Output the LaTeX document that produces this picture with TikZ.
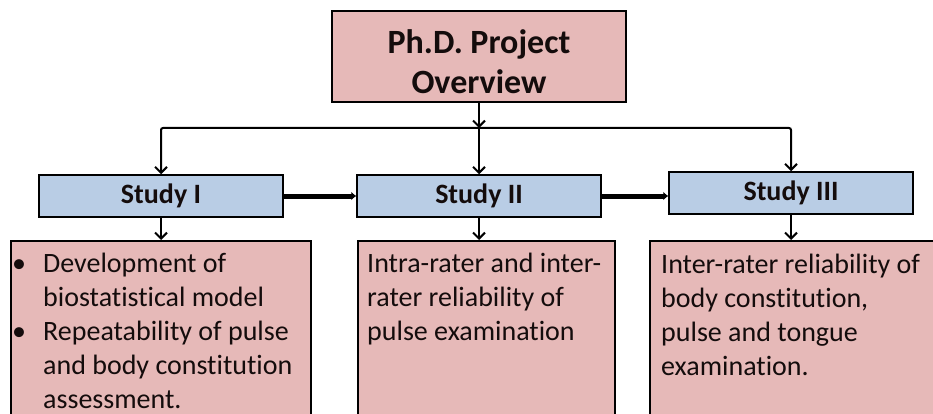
\documentclass[tikz,border=0pt]{standalone}
\usepackage{fontspec}
\setmainfont{Carlito}[Ligatures=NoCommon]
\usetikzlibrary{arrows.meta}
\definecolor{boxpink}{HTML}{E6B9B8}
\definecolor{boxblue}{HTML}{B9CDE5}
\definecolor{inkdark}{HTML}{140C0C}
\begin{document}
\begin{tikzpicture}[x=1pt,y=-1pt,
  titlebox/.style={draw=black, line width=2.5pt, fill=boxpink, minimum width=294pt,
    minimum height=91pt, inner sep=0pt},
  titletext/.style={align=center, inner sep=0pt, text=inkdark,
    font=\fontsize{34}{40}\selectfont\bfseries},
  studybox/.style={draw=black, line width=1.5pt, fill=boxblue, minimum width=244pt,
    minimum height=42pt, inner sep=0pt, text=inkdark,
    font=\fontsize{28}{34}\selectfont\bfseries},
  detailbox/.style={draw=black, line width=1.8pt, fill=boxpink, anchor=north west,
    inner sep=0pt, minimum height=220pt},
  detailtext/.style={anchor=north west, inner sep=0pt, text=inkdark,
    font=\fontsize{28}{34}\selectfont},
  link/.style={draw=black, line width=2pt,
    -{Straight Barb[length=6pt,width=12pt,line width=2pt]}},
  flow/.style={draw=black, line width=5pt, -{Latex[length=5pt,width=9pt]}}
]
% canvas
\path[use as bounding box] (0,0) rectangle (933,414);
\clip (0,0) rectangle (933,414);
\fill[white] (0,0) rectangle (933,414);

% top box
\node[titlebox] (proj) at (479,56.5) {};
\node[titletext] (projlabel) at (479,62) {Ph.D. Project\\Overview};

% study boxes
\node[studybox] (s1) at (161,196) {Study I};
\node[studybox] (s2) at (479,196) {Study II};
\node[studybox] (s3) at (791,193) {Study III};

% detail boxes (running past the lower edge)
\node[detailbox, minimum width=300pt] (b1) at (10,240) {};
\node[detailbox, minimum width=257pt] (b2) at (357,240) {};
\node[detailbox, minimum width=300pt] (b3) at (649,240) {};

\node[detailtext] (t1) at (12,248.2) {\begin{tabular}{@{}p{31pt}@{}l@{}}
  \textbullet & Development of\\
              & biostatistical model\\
  \textbullet & Repeatability of pulse\\
              & and body constitution\\
              & assessment.
\end{tabular}};
\node[detailtext] (t2) at (367,248.2) {\begin{tabular}{@{}l@{}}
  Intra-rater and inter-\\
  rater reliability of\\
  pulse examination
\end{tabular}};
\node[detailtext] (t3) at (661,249) {\begin{tabular}{@{}l@{}}
  Inter-rater reliability of\\
  body constitution,\\
  pulse and tongue\\
  examination.
\end{tabular}};

% branching connectors
\coordinate (bus) at (479,128);
\draw[link] (proj.south) -- (bus);
\draw[link, rounded corners=2pt] (bus) -| (s1.north);
\draw[link, rounded corners=2pt] (bus) -| (s3.north);
\draw[link] (bus) -- (s2.north);

% study to detail
\draw[link] (s1.south) -- (s1.south |- b1.north);
\draw[link] (s2.south) -- (s2.south |- b2.north);
\draw[link] (s3.south) -- (s3.south |- b3.north);

% sequence between studies
\draw[flow] (s1.east) -- (s2.west);
\draw[flow] (s2.east) -- (s2.east -| s3.west);
\end{tikzpicture}
\end{document}
